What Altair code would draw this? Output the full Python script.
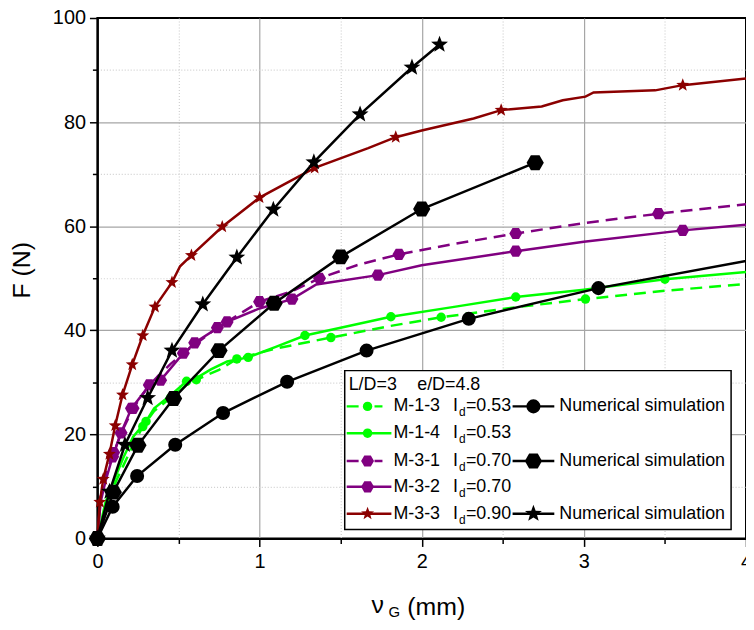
import math
import altair as alt
import pandas as pd

# ---------------- data ----------------
# Experimental curves
m13_x = [0, 0.05, 0.1, 0.16, 0.22, 0.28, 0.35, 0.45, 0.55, 0.61, 0.75, 0.86, 1.1, 1.44, 1.8, 2.12, 2.6, 3.01, 3.5, 4.0]
m13_y = [0, 6.0, 10.0, 14.0, 18.0, 21.5, 24.5, 27.0, 29.5, 30.5, 32.4, 34.5, 36.5, 38.6, 40.8, 42.5, 44.5, 46.0, 47.6, 48.9]
m13_mx = [0.28, 0.45, 0.61, 0.86, 1.44, 2.12, 3.01]
m13_my = [21.5, 27.0, 30.5, 34.5, 38.6, 42.5, 46.0]

m14_x = [0, 0.05, 0.1, 0.16, 0.22, 0.3, 0.35, 0.45, 0.55, 0.61, 0.7, 0.8, 0.93, 1.1, 1.28, 1.5, 1.81, 2.2, 2.58, 3.0, 3.5, 4.0]
m14_y = [0, 7.0, 11.0, 15.5, 19.5, 22.5, 25.0, 27.5, 30.2, 30.8, 32.5, 34.0, 34.8, 36.8, 39.0, 40.5, 42.6, 44.5, 46.4, 47.8, 49.8, 51.2]
m14_mx = [0.3, 0.55, 0.93, 1.28, 1.81, 2.58, 3.5]
m14_my = [22.5, 30.2, 34.8, 39.0, 42.6, 46.4, 49.8]

m31_x = [0, 0.02, 0.06, 0.1, 0.15, 0.22, 0.32, 0.45, 0.53, 0.74, 1.0, 1.2, 1.37, 1.6, 1.86, 2.2, 2.58, 3.0, 3.46, 4.0]
m31_y = [0, 8.0, 13.0, 16.5, 20.5, 25.0, 29.5, 33.5, 35.6, 40.5, 45.5, 47.5, 50.0, 52.5, 54.6, 56.6, 58.6, 60.6, 62.4, 64.2]
m31_mx = [0.1, 0.22, 0.32, 0.53, 0.74, 1.0, 1.37, 1.86, 2.58, 3.46]
m31_my = [16.5, 25.0, 29.5, 35.6, 40.5, 45.5, 50.0, 54.6, 58.6, 62.4]

m32_x = [0, 0.02, 0.05, 0.094, 0.146, 0.21, 0.3, 0.39, 0.5, 0.6, 0.8, 1.0, 1.2, 1.35, 1.73, 2.0, 2.58, 3.0, 3.61, 4.0]
m32_y = [0, 7.0, 11.0, 15.7, 20.3, 25.0, 28.6, 30.4, 34.5, 37.6, 41.6, 44.2, 46.0, 48.8, 50.6, 52.5, 55.2, 57.0, 59.2, 60.3]
m32_mx = [0.094, 0.146, 0.21, 0.39, 0.6, 0.8, 1.2, 1.73, 2.58, 3.61]
m32_my = [15.7, 20.3, 25.0, 30.4, 37.6, 41.6, 46.0, 50.6, 55.2, 59.2]

m33_x = [0, 0.015, 0.036, 0.074, 0.11, 0.155, 0.215, 0.28, 0.355, 0.46, 0.51, 0.58, 0.77, 1.0, 1.34,
         1.67, 1.84, 2.0, 2.32, 2.49, 2.74, 2.87, 3.01, 3.06, 3.44, 3.61, 4.0]
m33_y = [0, 7.0, 11.4, 16.2, 21.7, 27.6, 33.4, 39.0, 44.5, 49.2, 52.3, 54.4, 59.9, 65.5, 71.2,
         75.0, 77.1, 78.4, 80.7, 82.3, 83.0, 84.2, 84.9, 85.7, 86.1, 87.1, 88.4]
m33_mx = [0.015, 0.036, 0.074, 0.11, 0.155, 0.215, 0.28, 0.355, 0.46, 0.58, 0.77, 1.0, 1.34, 1.84, 2.49, 3.61]
m33_my = [7.0, 11.4, 16.2, 21.7, 27.6, 33.4, 39.0, 44.5, 49.2, 54.4, 59.9, 65.5, 71.2, 77.1, 82.3, 87.1]

# Numerical simulations
sim1_x = [0, 0.094, 0.245, 0.48, 0.775, 1.17, 1.66, 2.29, 3.09, 4.0]
sim1_y = [0, 6.1, 12.0, 18.0, 24.1, 30.1, 36.1, 42.2, 48.1, 53.3]
sim1_mx = sim1_x[:-1]
sim1_my = sim1_y[:-1]

sim3_x = [0, 0.098, 0.25, 0.47, 0.75, 1.09, 1.50, 2.0, 2.7]
sim3_y = [0, 8.9, 17.9, 26.9, 36.1, 45.2, 54.1, 63.3, 72.2]

simS_x = [0, 0.075, 0.17, 0.31, 0.46, 0.65, 0.86, 1.085, 1.335, 1.62, 1.94, 2.11]
simS_y = [0, 9.0, 18.0, 27.0, 36.1, 45.0, 54.0, 63.2, 72.3, 81.5, 90.5, 94.9]

x_ticks = [0, 0.5, 1, 1.5, 2, 2.5, 3, 3.5, 4]
y_ticks = [0, 10, 20, 30, 40, 50, 60, 70, 80, 90, 100]

legend_names = ["M-1-3", "M-1-4", "M-3-1", "M-3-2", "M-3-3"]
legend_ids = ["0.53", "0.53", "0.70", "0.70", "0.90"]
sim_label = "Numerical simulation"
header_left = "L/D=3"
header_right = "e/D=4.8"

# ---------------- styling ----------------
FONT = "Liberation Sans"
GREEN = "#00ff00"
PURPLE = "#800080"
RED = "#8b0000"
BLACK = "#000000"
DASH = [12, 7]

HEX = "M1,0 L0.5,0.866 L-0.5,0.866 L-1,0 L-0.5,-0.866 L0.5,-0.866 Z"


def star_path(inner=0.42):
    pts = []
    for k in range(10):
        r = 1.0 if k % 2 == 0 else inner
        a = math.radians(-90 + 36 * k)
        pts.append(f"{r * math.cos(a):.3f},{r * math.sin(a):.3f}")
    return "M" + " L".join(pts) + " Z"


STAR = star_path()

X_SCALE = alt.Scale(domain=[0, 4], nice=False, zero=False)
Y_SCALE = alt.Scale(domain=[0, 100], nice=False, zero=False)

X_AXIS = alt.Axis(
    values=x_ticks, title=None, grid=True,
    gridColor={"condition": {"test": "datum.value % 1 != 0", "value": "#cfcfcf"}, "value": "#a6a6a6"},
    gridDash={"condition": {"test": "datum.value % 1 != 0", "value": [1, 2]}, "value": []},
    gridOpacity={"condition": {"test": "datum.value <= 0 || datum.value >= 4", "value": 0}, "value": 1},
    gridWidth=1.2,
    tickSize={"condition": {"test": "datum.value % 1 != 0", "value": 5}, "value": 8},
    tickColor="black", tickWidth=1.5,
    labelExpr="datum.value % 1 == 0 ? format(datum.value, 'd') : ''",
    labelFontSize=20, labelFont=FONT, labelColor="black", labelPadding=5,
    labelOverlap=False, labelFlush=False,
    domainColor="black", domainWidth=2,
)
Y_AXIS = alt.Axis(
    values=y_ticks, title=None, grid=True,
    gridColor={"condition": {"test": "datum.value % 20 != 0", "value": "#cfcfcf"}, "value": "#a6a6a6"},
    gridDash={"condition": {"test": "datum.value % 20 != 0", "value": [1, 2]}, "value": []},
    gridOpacity={"condition": {"test": "datum.value <= 0 || datum.value >= 100", "value": 0}, "value": 1},
    gridWidth=1.2,
    tickSize={"condition": {"test": "datum.value % 20 != 0", "value": 5}, "value": 8},
    tickColor="black", tickWidth=1.5,
    labelExpr="datum.value % 20 == 0 ? format(datum.value, 'd') : ''",
    labelFontSize=20, labelFont=FONT, labelColor="black", labelPadding=4,
    labelOverlap=False, labelFlush=False,
    domainColor="black", domainWidth=2,
)


def enc(chart):
    return chart.encode(
        x=alt.X("x:Q", scale=X_SCALE, axis=X_AXIS),
        y=alt.Y("y:Q", scale=Y_SCALE, axis=Y_AXIS),
    )


def line_layer(xs, ys, color, dash=None, width=2.5):
    kw = dict(color=color, strokeWidth=width, strokeCap="butt")
    if dash:
        kw["strokeDash"] = dash
    return enc(alt.Chart(pd.DataFrame({"x": xs, "y": ys})).mark_line(**kw))


def point_layer(xs, ys, color, shape, size):
    return enc(alt.Chart(pd.DataFrame({"x": xs, "y": ys})).mark_point(
        filled=True, shape=shape, size=size, color=color, opacity=1, strokeWidth=0))


layers = [
    line_layer(m13_x, m13_y, GREEN, DASH), point_layer(m13_mx, m13_my, GREEN, "circle", 90),
    line_layer(m14_x, m14_y, GREEN), point_layer(m14_mx, m14_my, GREEN, "circle", 90),
    line_layer(m31_x, m31_y, PURPLE, DASH), point_layer(m31_mx, m31_my, PURPLE, HEX, 170),
    line_layer(m32_x, m32_y, PURPLE), point_layer(m32_mx, m32_my, PURPLE, HEX, 170),
    line_layer(m33_x, m33_y, RED), point_layer(m33_mx, m33_my, RED, STAR, 190),
    line_layer(sim1_x, sim1_y, BLACK), point_layer(sim1_mx, sim1_my, BLACK, "circle", 200),
    line_layer(sim3_x, sim3_y, BLACK), point_layer(sim3_x, sim3_y, BLACK, HEX, 300),
    line_layer(simS_x, simS_y, BLACK), point_layer(simS_x, simS_y, BLACK, STAR, 320),
]

ONE = pd.DataFrame({"k": [0]})


def txt(text, px, py, size=18, align="left", baseline="middle", angle=0):
    kw = dict(text=text, font=FONT, fontSize=size, align=align, baseline=baseline, color="black")
    if angle:
        kw["angle"] = angle
    return alt.Chart(ONE).mark_text(**kw).encode(x=alt.value(px), y=alt.value(py))


def seg(x1, x2, py, color, dash=None):
    kw = dict(color=color, strokeWidth=2.5)
    if dash:
        kw["strokeDash"] = dash
    return alt.Chart(ONE).mark_rule(**kw).encode(x=alt.value(x1), x2=alt.value(x2), y=alt.value(py))


def sym(px, py, color, shape, size):
    return alt.Chart(ONE).mark_point(filled=True, shape=shape, size=size, color=color,
                                     opacity=1, strokeWidth=0).encode(x=alt.value(px), y=alt.value(py))


# ---------------- legend ----------------
leg = [
    alt.Chart(ONE).mark_rect(fill="white", stroke="black", strokeWidth=1.5).encode(
        x=alt.value(249), x2=alt.value(638), y=alt.value(355), y2=alt.value(515)),
    txt(header_left, 253, 370),
    txt(header_right, 322, 370),
]
row_y = [391, 418, 446, 472, 499]
row_style = [
    (GREEN, DASH, "circle", 90, "circle", 200),
    (GREEN, None, "circle", 90, None, None),
    (PURPLE, DASH, HEX, 170, HEX, 300),
    (PURPLE, None, HEX, 170, None, None),
    (RED, None, STAR, 190, STAR, 320),
]
for name, idv, ry, (col, dsh, shp, sz, sshp, ssz) in zip(legend_names, legend_ids, row_y, row_style):
    if dsh:
        leg.append(seg(251, 287, ry, col, [12, 16]))
    else:
        leg.append(seg(251, 296, ry, col))
    leg.append(sym(272, ry, col, shp, sz))
    leg.append(txt(name, 298, ry))
    leg.append(txt("I", 358, ry))
    leg.append(txt("d", 364, ry + 6, size=12))
    leg.append(txt("=" + idv, 371, ry))
    if sshp:
        leg.append(seg(418, 460, ry, BLACK))
        leg.append(sym(439, ry, BLACK, sshp, ssz))
        leg.append(txt(sim_label, 465, ry))

# ---------------- axis titles ----------------
titles = [
    txt("ν", 276, 591, size=25),
    txt("G", 293, 598, size=15),
    txt("(mm)", 312, 593, size=25),
    txt("F (N)", -76, 254, size=25, align="center", angle=270),
]

chart = alt.layer(*layers, *leg, *titles).properties(
    width=653, height=524,
    autosize=alt.AutoSizeParams(type="none"),
    padding={"left": 90, "top": 8, "right": 0, "bottom": 82},
).configure_view(stroke="black", strokeWidth=2)

chart.save("out.html", embed_options={"renderer": "svg", "actions": False})
